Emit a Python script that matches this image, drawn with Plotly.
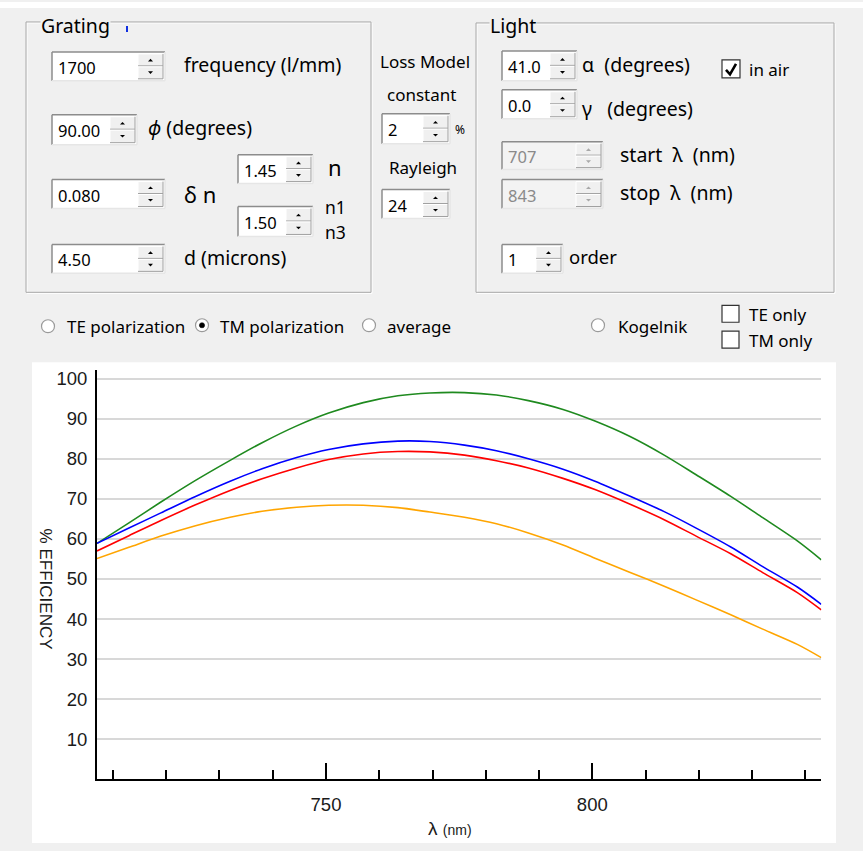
import plotly.graph_objects as go

# ---------------- data ----------------
wavelength = [707, 713, 719, 725.5, 732, 738, 744.5, 750.5, 757, 763.5, 769.5, 776,
              782, 788, 794.5, 800.5, 807, 813.5, 819.5, 826, 832, 838.5, 843]
green_eff = [58.9, 64.0, 69.2, 74.6, 79.6, 84.0, 88.2, 91.4, 94.0, 95.7, 96.4, 96.5,
             95.9, 94.5, 92.3, 89.4, 85.6, 80.9, 76.0, 70.6, 65.3, 59.5, 54.8]
blue_eff = [58.9, 62.7, 66.5, 70.6, 74.4, 77.5, 80.3, 82.3, 83.7, 84.4, 84.3, 83.4,
            82.0, 80.0, 77.4, 74.4, 70.7, 66.8, 62.7, 58.0, 53.1, 48.0, 43.7]
red_eff = [57.0, 60.8, 64.6, 68.5, 72.1, 75.0, 77.7, 79.8, 81.2, 81.8, 81.7, 80.9,
           79.5, 77.7, 75.1, 72.3, 68.7, 64.8, 60.7, 56.3, 51.6, 46.6, 42.3]
orange_eff = [55.1, 57.9, 60.7, 63.3, 65.4, 66.9, 67.9, 68.4, 68.4, 67.8, 66.7, 65.4,
              63.8, 61.5, 58.5, 55.2, 51.7, 48.2, 44.8, 41.1, 37.5, 33.7, 30.4]
series_names = ["green", "blue", "red", "orange"]
series_colors = ["#1f8a1f", "#0000ff", "#ff0000", "#ffa500"]
y_tick_values = [10, 20, 30, 40, 50, 60, 70, 80, 90, 100]
x_tick_values = [750, 800]
x_range = [707, 843]
y_range = [0, 102.1]

# ---------------- helpers ----------------
W, H = 863, 851
UI_FONT = "Noto Sans, Open Sans, DejaVu Sans"
CH_FONT = "Liberation Sans, Arial"
LBL = 19.5  # group-box label size


def fx(x):
    return x / W


def fy(y):
    return 1 - y / H


shapes = []
annotations = []


def rect(x0, y0, x1, y1, fill=None, line=None, lw=1, layer="above"):
    shapes.append(dict(type="rect", xref="paper", yref="paper",
                       x0=fx(x0), x1=fx(x1), y0=fy(y1), y1=fy(y0),
                       fillcolor=fill if fill else "rgba(0,0,0,0)",
                       line=dict(color=line if line else "rgba(0,0,0,0)", width=lw if line else 0),
                       layer=layer))


def seg(x0, y0, x1, y1, color, lw=1):
    shapes.append(dict(type="line", xref="paper", yref="paper",
                       x0=fx(x0), x1=fx(x1), y0=fy(y0), y1=fy(y1),
                       line=dict(color=color, width=lw), layer="above"))


def path(points, fill, line=None, lw=0):
    d = "M " + " L ".join(f"{fx(a):.5f},{fy(b):.5f}" for a, b in points) + " Z"
    shapes.append(dict(type="path", xref="paper", yref="paper", path=d,
                       fillcolor=fill, line=dict(color=line if line else fill, width=lw),
                       layer="above"))


def circle(cx, cy, r, fill, line, lw=1):
    shapes.append(dict(type="circle", xref="paper", yref="paper",
                       x0=fx(cx - r), x1=fx(cx + r), y0=fy(cy + r), y1=fy(cy - r),
                       fillcolor=fill, line=dict(color=line, width=lw), layer="above"))


def text(x, y, s, size=17, color="#000000", anchor="left", family=UI_FONT, bg=None, angle=0):
    a = dict(x=fx(x), y=fy(y), xref="paper", yref="paper", text=s, showarrow=False,
             xanchor=anchor, yanchor="middle", textangle=angle, borderpad=0,
             font=dict(family=family, size=size, color=color))
    if bg:
        a["bgcolor"] = bg
    annotations.append(a)


def spinbox(x0, y0, x1, y1, value, disabled=False):
    fill = "#f3f3f3" if disabled else "#ffffff"
    rect(x0, y0, x1, y1, fill=fill)
    seg(x0, y0, x1, y0, "#8c8c8c", 1.5)
    seg(x0, y0, x0, y1, "#8c8c8c", 1.5)
    seg(x0, y1, x1, y1, "#e6e6e6", 1.5)
    seg(x1, y0, x1, y1, "#e6e6e6", 1.5)
    sx0, sx1 = x1 - 27, x1 - 2
    sy0, sy1 = y0 + 2, y1 - 2
    my = (sy0 + sy1) / 2
    rect(sx0, sy0, sx1, sy1, fill="#f0f0f0")
    seg(sx0, sy0, sx1, sy0, "#ffffff", 1)
    seg(sx0, sy0, sx0, sy1, "#ffffff", 1)
    seg(sx0, my - 0.5, sx1, my - 0.5, "#a0a0a0", 1)
    seg(sx0, my + 0.5, sx1, my + 0.5, "#ffffff", 1)
    seg(sx0, sy1, sx1, sy1, "#a0a0a0", 1)
    seg(sx1, sy0, sx1, sy1, "#a0a0a0", 1)
    cx = (sx0 + sx1) / 2
    acol = "#a8a8a8" if disabled else "#000000"
    uy = (sy0 + my) / 2
    dy = (my + sy1) / 2
    path([(cx - 2.5, uy + 1.3), (cx + 2.5, uy + 1.3), (cx, uy - 1.3)], acol)
    path([(cx - 2.5, dy - 1.3), (cx + 2.5, dy - 1.3), (cx, dy + 1.3)], acol)
    text(x0 + 5, (y0 + y1) / 2 + 1, value, size=16.5,
         color="#8a8a8a" if disabled else "#000000")


def frame(x0, y0, x1, y1):
    rect(x0 + 1, y0 + 1, x1 + 1, y1 + 1, line="#ffffff", lw=1)
    rect(x0, y0, x1, y1, line="#a9a9a9", lw=1)


def radio(cx, cy, checked=False):
    circle(cx, cy, 6.5, "#ffffff", "#9a9a9a", 1.2)
    if checked:
        circle(cx, cy, 2.6, "#000000", "#000000", 0.5)


def checkbox(x0, y0, x1, y1, checked=False):
    rect(x0, y0, x1, y1, fill="#ffffff", line="#333333", lw=1.2)
    if checked:
        shapes.append(dict(type="path", xref="paper", yref="paper",
                           path=f"M {fx(x0+4):.5f},{fy(y0+10):.5f} L {fx(x0+8):.5f},{fy(y0+14.5):.5f} L {fx(x1-4):.5f},{fy(y0+4):.5f}",
                           line=dict(color="#000000", width=2.6), layer="above"))


# ---------------- background UI ----------------
rect(0, 0, W, 6, fill="#ffffff", layer="below")
rect(32, 361, 836, 843, fill="#ffffff", layer="below")

# Grating group
frame(26, 20, 371, 291)
text(40, 24, "Grating", size=LBL, bg="#f0f0f0")
seg(127, 24, 127, 30, "#1030e0", 2)
spinbox(52, 50, 165, 79, "1700")
text(183, 63, "frequency (l/mm)", size=LBL)
spinbox(52, 113, 137, 143, "90.00")
text(147, 126, "<i>ϕ</i> (degrees)", size=LBL)
spinbox(52, 178, 165, 207, "0.080")
text(183, 192, "δ\u00a0n", size=22)
spinbox(238, 153, 313, 182, "1.45")
text(327, 165, "n", size=22)
spinbox(238, 205, 313, 235, "1.50")
text(324, 205, "n1", size=17.5)
text(324, 231, "n3", size=17.5)
spinbox(52, 243, 165, 272, "4.50")
text(183, 256, "d (microns)", size=LBL)

# Loss model column
text(425, 60, "Loss Model", anchor="center")
text(421, 93, "constant", anchor="center")
spinbox(382, 112, 450, 142, "2")
text(454, 128, "%", size=12)
text(423, 166, "Rayleigh", anchor="center")
spinbox(382, 188, 450, 217, "24")

# Light group
frame(476, 21, 834, 291)
text(489, 24, "Light", size=LBL, bg="#f0f0f0")
spinbox(502, 49, 577, 79, "41.0")
text(581, 63, "α\u00a0\u00a0(degrees)", size=LBL)
checkbox(722, 58, 740, 76, checked=True)
text(748, 68, "in air")
spinbox(502, 88, 577, 117, "0.0")
text(581, 107, "γ\u00a0\u00a0\u00a0(degrees)", size=LBL)
spinbox(502, 140, 603, 168, "707", disabled=True)
text(619, 153, "start\u00a0\u00a0λ\u00a0\u00a0(nm)", size=LBL)
spinbox(502, 178, 603, 207, "843", disabled=True)
text(619, 191, "stop\u00a0\u00a0λ\u00a0\u00a0(nm)", size=LBL)
spinbox(502, 243, 563, 272, "1")
text(568, 255, "order", size=18.5)

# radio row
radio(48, 325)
text(66, 325, "TE polarization")
radio(202, 324, checked=True)
text(219, 325, "TM polarization")
radio(369, 324)
text(386, 325, "average")
radio(598, 324)
text(617, 325, "Kogelnik")
checkbox(722, 304, 739, 321)
text(748, 313, "TE only")
checkbox(722, 330, 739, 347)
text(748, 339, "TM only")

# chart titles
text(45, 588, "% EFFICIENCY", size=17, family=CH_FONT, anchor="center", angle=90, color="#1a1a1a")
text(450, 828, "λ\u00a0<span style='font-size:14px'>(nm)</span>", size=19, family=CH_FONT,
     anchor="center", color="#1a1a1a")

# ---------------- chart ----------------
fig = go.Figure()
for name, vals, col in zip(series_names, [green_eff, blue_eff, red_eff, orange_eff], series_colors):
    fig.add_trace(go.Scatter(x=wavelength, y=vals, mode="lines", name=name,
                             line=dict(color=col, width=1.6, shape="spline", smoothing=0.8),
                             hoverinfo="skip"))

fig.update_layout(
    width=W, height=H, autosize=False,
    margin=dict(l=0, r=0, t=0, b=0, pad=0),
    paper_bgcolor="#f0f0f0", plot_bgcolor="#ffffff",
    showlegend=False,
    shapes=shapes, annotations=annotations,
    xaxis=dict(domain=[fx(97), fx(821.3)], range=x_range, showgrid=False, zeroline=False,
               showline=True, linecolor="#000000", linewidth=2,
               tickmode="array", tickvals=x_tick_values, ticks="inside", ticklen=16,
               tickwidth=2, tickcolor="#000000",
               minor=dict(dtick=10, tick0=750, ticks="inside", ticklen=9, tickwidth=2,
                          tickcolor="#000000", showgrid=False),
               tickfont=dict(family=CH_FONT, size=18.5, color="#1a1a1a"),
               ticklabelstandoff=7, fixedrange=True),
    yaxis=dict(domain=[fy(779.3), fy(369)], range=y_range, showgrid=True,
               gridcolor="#d8d8d8", gridwidth=2, zeroline=False,
               showline=True, linecolor="#000000", linewidth=2,
               tickmode="array", tickvals=y_tick_values, ticks="",
               tickfont=dict(family=CH_FONT, size=18.5, color="#1a1a1a"),
               ticklabelstandoff=4, fixedrange=True),
)

fig.write_html("out.html", config={"displayModeBar": False})
